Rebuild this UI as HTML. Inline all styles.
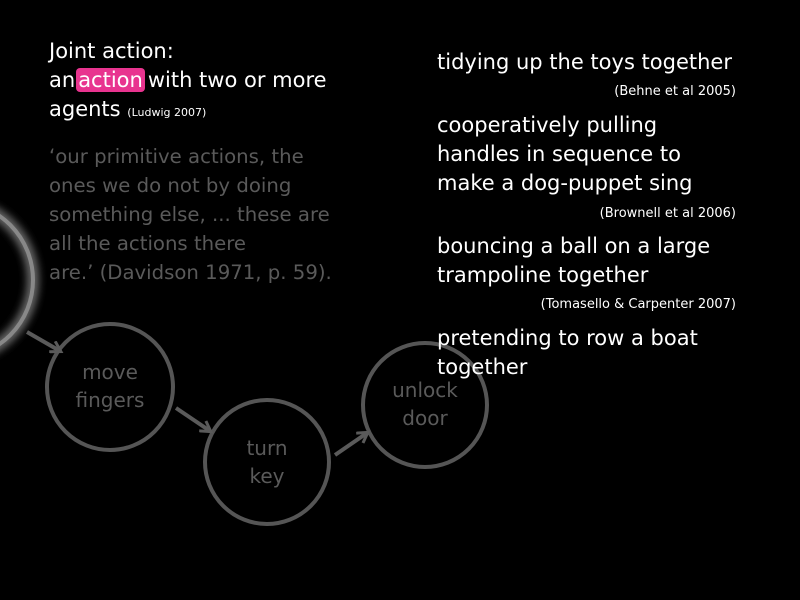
<!DOCTYPE html>
<html><head><style>
body{margin:0;width:800px;height:600px;background:#000;overflow:hidden;position:relative;font-family:"DejaVu Sans","Liberation Sans",sans-serif;}
.t{position:absolute;white-space:nowrap;font-size:21px;line-height:29px;color:#fff;}
.g{color:#5a5a5a;font-size:19.7px;}
.s{font-size:11px;}
.r{position:absolute;right:64px;font-size:13px;color:#fff;}
.hl{background:#e8348f;border-radius:4px;padding:0 2px;margin:0 3px 0 1px;}
</style></head><body>
<svg width="800" height="600" style="position:absolute;left:0;top:0">
<defs><filter id="b"><feGaussianBlur stdDeviation="4"/></filter>
<marker id="a" markerWidth="14" markerHeight="14" refX="10" refY="7" orient="auto" markerUnits="userSpaceOnUse"><path d="M1,1 L11,7 L1,13" fill="none" stroke="#5a5a5a" stroke-width="3"/></marker></defs>
<circle cx="-45" cy="280" r="78" fill="none" stroke="#666" stroke-width="12" filter="url(#b)"/>
<circle cx="-45" cy="280" r="78" fill="none" stroke="#888" stroke-width="4"/>
<g fill="none" stroke="#555" stroke-width="4">
<circle cx="110" cy="387" r="63"/>
<circle cx="267" cy="462" r="62"/>
<circle cx="425" cy="405" r="62"/>
</g>
<g stroke="#5a5a5a" stroke-width="4" marker-end="url(#a)">
<line x1="27" y1="332" x2="60" y2="351"/>
<line x1="176" y1="408" x2="210" y2="431"/>
<line x1="335" y1="455" x2="367" y2="433"/>
</g>
<g fill="#5a5a5a" font-size="20" text-anchor="middle" font-family="DejaVu Sans,Liberation Sans,sans-serif">
<text x="110" y="379">move</text><text x="110" y="407">fingers</text>
<text x="267" y="455">turn</text><text x="267" y="483">key</text>
<text x="425" y="397">unlock</text><text x="425" y="425">door</text>
</g>
</svg>
<div class="t" style="left:49px;top:37px">Joint action:<br>an<span class="hl">action</span>with two or more<br>agents <span class="s">(Ludwig 2007)</span></div>
<div class="t g" style="left:49px;top:142px">‘our primitive actions, the<br>ones we do not by doing<br>something else, ... these are<br>all the actions there<br>are.’ (Davidson 1971, p. 59).</div>
<div class="t" style="left:437px;top:48px">tidying up the toys together</div>
<div class="r" style="top:84px">(Behne et al 2005)</div>
<div class="t" style="left:437px;top:111px">cooperatively pulling<br>handles in sequence to<br>make a dog-puppet sing</div>
<div class="r" style="top:206px">(Brownell et al 2006)</div>
<div class="t" style="left:437px;top:232px">bouncing a ball on a large<br>trampoline together</div>
<div class="r" style="top:297px">(Tomasello &amp; Carpenter 2007)</div>
<div class="t" style="left:437px;top:324px">pretending to row a boat<br>together</div>
</body></html>
